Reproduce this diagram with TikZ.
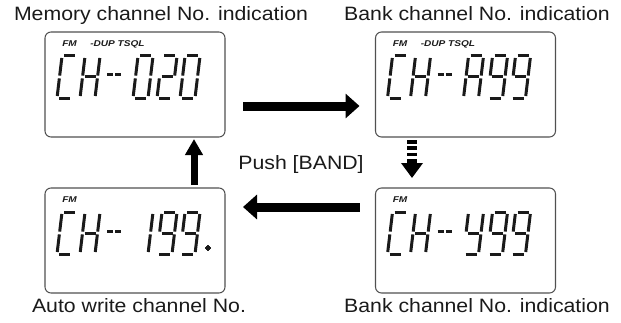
\documentclass[tikz,border=0pt]{standalone}
\usepackage{fontspec}
\setmainfont{Liberation Sans}[FakeStretch=1.1]
\newfontfamily\lcdfont{Liberation Sans}[FakeStretch=1.2]
\definecolor{IcomInk}{HTML}{1A1A1A}
\definecolor{IcomFrame}{HTML}{505050}
\usetikzlibrary{arrows.meta,positioning}

% one seven-segment cell: box, x offset, segments
\newcommand{\lcdchar}[3]{%
  \edef\lcdsegs{#3}%
  \begin{scope}[shift={(#1.north west)}]
    \begin{scope}[shift={(#2,-66)},xslant=0.12]
      \coordinate (a1) at (2,42);    \coordinate (a2) at (13,42);
      \coordinate (b1) at (15,40);   \coordinate (b2) at (15,22.4);
      \coordinate (c1) at (15,19.6); \coordinate (c2) at (15,2);
      \coordinate (d1) at (2,0);     \coordinate (d2) at (13,0);
      \coordinate (e1) at (0,2);     \coordinate (e2) at (0,19.6);
      \coordinate (f1) at (0,22.4);  \coordinate (f2) at (0,40);
      \coordinate (g1) at (2,21);    \coordinate (g2) at (13,21);
      \foreach \s in \lcdsegs \draw[lcdseg] (\s1) -- (\s2);
    \end{scope}
  \end{scope}}

\begin{document}
\begin{tikzpicture}[x=0.75pt,y=0.75pt,
    lcdbox/.style={draw=IcomFrame,line width=0.8pt,rounded corners=4.5pt,
      minimum width=135pt,minimum height=78.75pt,inner sep=0pt,outer sep=0pt},
    lbl/.style={font=\fontsize{14.5}{17}\selectfont,text=IcomInk,inner sep=0pt,anchor=base},
    annun/.style={font=\lcdfont\bfseries\itshape\fontsize{6.3}{7}\selectfont,
      text=IcomInk,inner sep=0pt,anchor=west},
    lcdseg/.style={draw=IcomInk,line width=2.25pt},
    bigarrow/.style={draw=black,line width=6.75pt,-{Triangle[length=10.5pt,width=18pt]}},
    uparrow/.style={draw=black,line width=5.25pt,-{Triangle[length=12pt,width=12.75pt]}},
    stripearrow/.style={draw=black,line width=7.5pt,dash pattern=on 2.8pt off 1.9pt,
      -{Triangle[length=11.25pt,width=15.75pt]}}]
  \useasboundingbox (0,0) rectangle (621,322);

  % displays
  \node[lcdbox] (mem)   at (135,237.5) {};
  \node[lcdbox] (bankA) at (465.5,237.5) {};
  \node[lcdbox] (auto)  at (135,81.5) {};
  \node[lcdbox] (bankB) at (465.5,81.5) {};

  \node[lbl] (memlbl)   at ([shift={(26,11)}]mem.north) {Memory channel No. indication};
  \node[lbl] (bankAlbl) at ([shift={(11.5,11)}]bankA.north) {Bank channel No. indication};
  \node[lbl] (autolbl)  at ([shift={(4,-19)}]auto.south) {Auto write channel No.};
  \node[lbl] (bankBlbl) at ([shift={(11.5,-19)}]bankB.south) {Bank channel No. indication};
  \node[lbl] (push)     at (301,153) {Push [BAND]};

  % "CH--" and FM on every display
  \foreach \b in {mem,bankA,auto,bankB} {
    \lcdchar{\b}{12}{a,d,e,f}
    \lcdchar{\b}{35}{b,c,e,f,g}
    \foreach \xa in {62,70}
      \draw[lcdseg] ([shift={(\xa,-43)}]\b.north west) -- ++(6,0);
    \node[annun] at ([shift={(17,-12)}]\b.north west) {FM};
  }
  \node[annun] at ([shift={(45,-12)}]mem.north west) {-DUP TSQL};
  \node[annun] at ([shift={(45,-12)}]bankA.north west) {-DUP TSQL};

  % channel digits
  \foreach \b/\xo/\segs in {mem/88/{a,b,c,d,e,f},mem/112/{a,b,d,e,g},mem/135/{a,b,c,d,e,f},
      bankA/88/{a,b,c,e,f,g},bankA/112/{a,b,c,d,f,g},bankA/135/{a,b,c,d,f,g},
      auto/88/{b,c},auto/112/{a,b,c,d,f,g},auto/135/{a,b,c,d,f,g},
      bankB/88/{b,c,d,f,g},bankB/112/{a,b,c,d,f,g},bankB/135/{a,b,c,d,f,g}}
    \lcdchar{\b}{\xo}{\segs}
  \fill[IcomInk] ([shift={(163,-60)}]auto.north west) circle (2.4);

  % arrows
  \draw[bigarrow,shorten <=13.5pt,shorten >=12pt]
    ([shift={(0,-21.5)}]mem.east) -- ([shift={(0,-21.5)}]bankA.west);
  \draw[stripearrow,shorten <=2.25pt,shorten >=7.5pt]
    ([shift={(-53.5,0)}]bankA.south) -- ([shift={(-53.5,0)}]bankB.north);
  \draw[bigarrow,shorten <=12pt,shorten >=13.5pt]
    ([shift={(0,33.5)}]bankB.west) -- ([shift={(0,33.5)}]auto.east);
  \draw[uparrow,shorten <=2.25pt,shorten >=1.5pt]
    ([shift={(59,0)}]auto.north) -- ([shift={(59,0)}]mem.south);
\end{tikzpicture}
\end{document}
